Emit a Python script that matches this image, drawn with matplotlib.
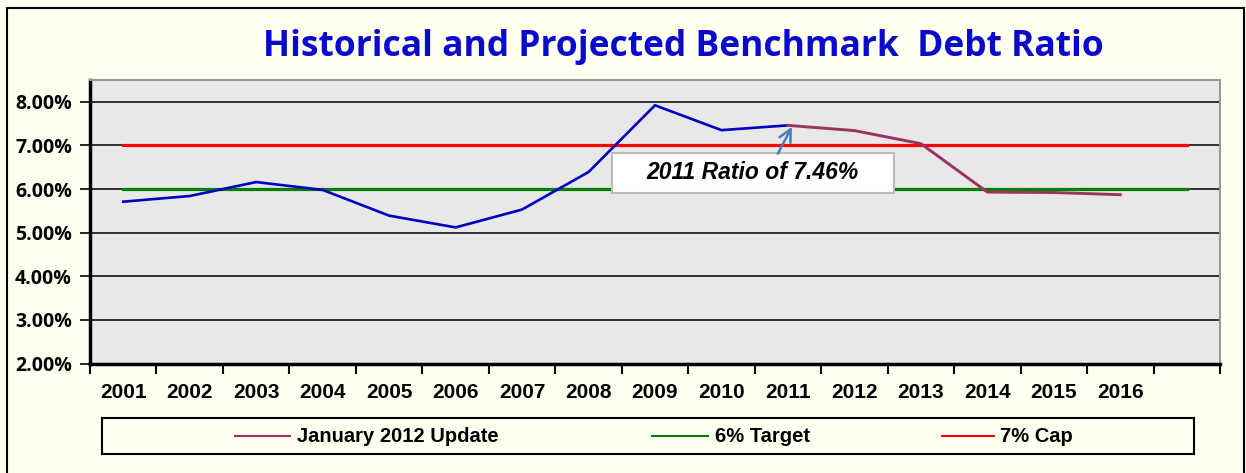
import numpy as np
import matplotlib
matplotlib.use("Agg")
import matplotlib.pyplot as plt
from matplotlib.patches import Rectangle
from matplotlib.lines import Line2D

# data
years = [str(y) for y in range(2001, 2017)] + [""]
hist_years = list(range(0, 11))            # 2001..2011
hist_vals = [5.71, 5.84, 6.16, 5.98, 5.39, 5.12, 5.53, 6.39, 7.92, 7.35, 7.46]
proj_years = list(range(10, 16))           # 2011..2016
proj_vals = [7.46, 7.34, 7.04, 5.93, 5.92, 5.87]
target = [6.0] * 17
cap = [7.0] * 17

BG = "#FFFFF0"
fig = plt.figure(figsize=(12.46, 4.73), dpi=100, facecolor=BG)
ax = fig.add_axes([90 / 1246, 1 - 363.5 / 473, 1130 / 1246, 283.5 / 473])
ax.set_facecolor("#E8E8E8")

x = np.arange(17)
ax.plot(x, cap, color="#FF0000", lw=2.3, zorder=3)
ax.plot(x, target, color="#008000", lw=2.3, zorder=3)
ax.plot(hist_years, hist_vals, color="#0000C0", lw=1.9, zorder=4)
ax.plot(proj_years, proj_vals, color="#993366", lw=2.1, zorder=4)

ax.set_xlim(-0.5, 16.5)
ax.set_ylim(2.0, 8.5)
ax.set_yticks(np.arange(2, 9, 1))
ax.set_yticklabels(["%.2f%%" % v for v in np.arange(2, 9, 1)], fontsize=14,
                   fontweight="bold", family="Open Sans")
ax.grid(axis="y", color="black", lw=1.1, zorder=1)
ax.set_axisbelow(True)
ax.set_xticks(np.arange(-0.5, 17, 1))
ax.set_xticklabels([])
ax.set_xticks(x, minor=True)
ax.set_xticklabels(years, minor=True, fontsize=15, fontweight="bold", family="Liberation Sans")
ax.tick_params(axis="x", which="minor", length=0, pad=14)
ax.tick_params(axis="x", which="major", length=7, width=1.5, direction="out")
ax.tick_params(axis="y", length=7, width=1.2, pad=6)
for s in ["left", "bottom"]:
    ax.spines[s].set_linewidth(2.5)
    ax.spines[s].set_color("black")
for s in ["top", "right"]:
    ax.spines[s].set_linewidth(1.5)
    ax.spines[s].set_color("#999999")

# annotation box + arrow
ax.add_patch(Rectangle((7.353, 5.913), 4.243, 0.919, fc="white", ec="#BBBBBB",
                       lw=1.5, zorder=6))
ax.annotate("2011 Ratio of 7.46%", xy=(10.06, 7.43), xytext=(9.47, 6.37),
            ha="center", va="center", fontsize=16.5, fontweight="bold", style="italic",
            family="Liberation Sans", zorder=7,
            arrowprops=dict(arrowstyle="->", color="#4A7EBB", lw=1.8, mutation_scale=22,
                            relpos=(0.6, 1.0), shrinkA=4, shrinkB=0))

# title
fig.text(683 / 1246, 1 - 47 / 473, "Historical and Projected Benchmark  Debt Ratio",
         ha="center", va="center", fontsize=25.5, fontweight="bold", color="#0A0ACC",
         family="Open Sans")

# legend box
fig.patches.append(Rectangle((102 / 1246, 1 - 454 / 473), 1092 / 1246, 36 / 473,
                             transform=fig.transFigure, fc=BG, ec="black", lw=1.5))
ly = 1 - 436 / 473
for (x0, x1, tx, col, lab) in [(235, 290, 297, "#993366", "January 2012 Update"),
                               (652, 708, 715, "#008000", "6% Target"),
                               (942, 994, 1000, "#FF0000", "7% Cap")]:
    fig.add_artist(Line2D([x0 / 1246, x1 / 1246], [ly, ly], color=col, lw=1.5,
                          transform=fig.transFigure))
    fig.text(tx / 1246, ly, lab, ha="left", va="center", fontsize=14.5,
             fontweight="bold", family="Liberation Sans")

# outer border
fig.patches.append(Rectangle((7 / 1246, -0.01), 1237 / 1246, 1 - 8 / 473 + 0.01,
                             transform=fig.transFigure, fill=False, ec="black", lw=1.5))

fig.savefig("out.png", dpi=100, facecolor=BG)
